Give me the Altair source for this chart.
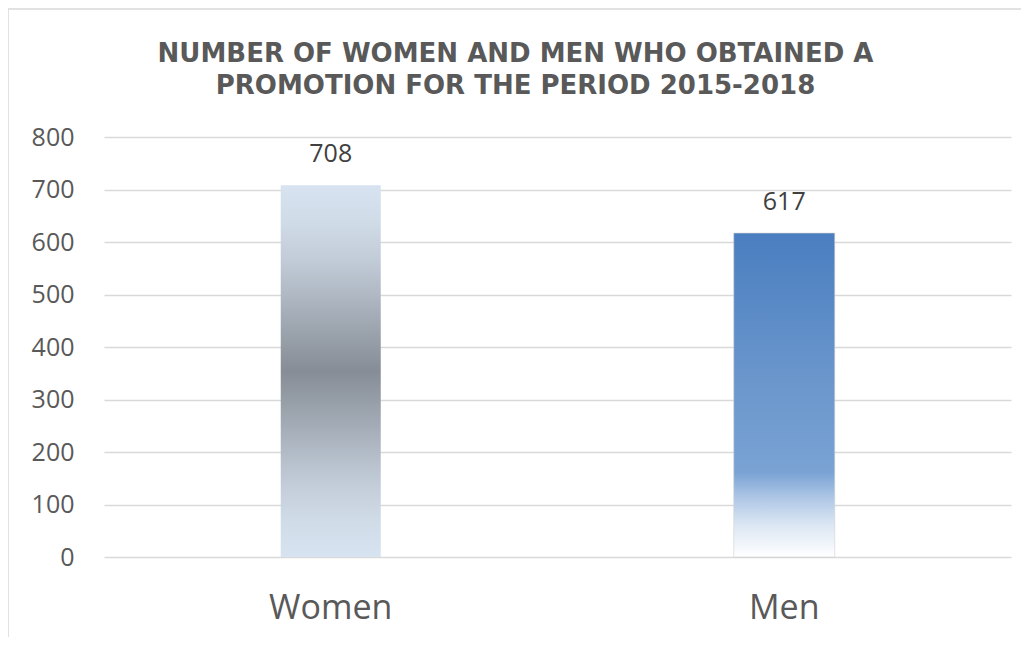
import altair as alt
import pandas as pd

categories = ["Women", "Men"]
values = [708, 617]
y_ticks = [0, 100, 200, 300, 400, 500, 600, 700, 800]
title_lines = ["NUMBER OF WOMEN AND MEN WHO OBTAINED A", "PROMOTION FOR THE PERIOD 2015-2018"]

df = pd.DataFrame({"cat": categories, "val": values})

women_grad = alt.Gradient(
    gradient="linear", x1=0, y1=0, x2=0, y2=1,
    stops=[
        alt.GradientStop(offset=0, color="#d7e3f0"),
        alt.GradientStop(offset=0.1, color="#d0dbe8"),
        alt.GradientStop(offset=0.2, color="#c2ccd8"),
        alt.GradientStop(offset=0.3, color="#aeb7c2"),
        alt.GradientStop(offset=0.4, color="#9aa2ac"),
        alt.GradientStop(offset=0.5, color="#868d96"),
        alt.GradientStop(offset=0.6, color="#9aa2ac"),
        alt.GradientStop(offset=0.7, color="#aeb7c2"),
        alt.GradientStop(offset=0.8, color="#c2ccd8"),
        alt.GradientStop(offset=0.9, color="#d0dbe8"),
        alt.GradientStop(offset=1, color="#d7e3f0"),
    ],
)
men_grad = alt.Gradient(
    gradient="linear", x1=0, y1=0, x2=0, y2=1,
    stops=[
        alt.GradientStop(offset=0, color="#4a7ec0"),
        alt.GradientStop(offset=0.45, color="#6a96cc"),
        alt.GradientStop(offset=0.74, color="#7aa3d4"),
        alt.GradientStop(offset=0.82, color="#b0c8e6"),
        alt.GradientStop(offset=0.9, color="#dbe6f3"),
        alt.GradientStop(offset=1, color="#ffffff"),
    ],
)

x_enc = alt.X("cat:N", sort=categories, title=None,
              scale=alt.Scale(paddingInner=0, paddingOuter=0),
              axis=alt.Axis(labelAngle=0, labelFontSize=34, labelFont="Open Sans",
                            labelColor="#595959", labelPadding=34, ticks=False,
                            domain=False, grid=False))
y_enc = alt.Y("val:Q", title=None,
              scale=alt.Scale(domain=[0, 800], nice=False),
              axis=alt.Axis(values=y_ticks, labelFontSize=25, labelFont="Open Sans",
                            labelColor="#595959", labelPadding=30, ticks=False,
                            domain=False, gridColor="#d9d9d9", gridWidth=1.3))

base = alt.Chart(df).encode(x=x_enc, y=y_enc)

women_bar = base.transform_filter(alt.datum.cat == "Women").mark_bar(size=100, color=women_grad)
men_bar = base.transform_filter(alt.datum.cat == "Men").mark_bar(size=101, color=men_grad, stroke="#d0d0d0", strokeWidth=1, strokeOpacity=0.6)

labels = base.mark_text(dy=-23, baseline="alphabetic", fontSize=25, font="Open Sans",
                        color="#404040").encode(text="val:Q")

frame = alt.Chart(pd.DataFrame({"f": [0]})).mark_rect(
    fill=None, fillOpacity=0, stroke="#d9d9d9", strokeWidth=1.5
).encode(x=alt.value(-96), x2=alt.value(1100), y=alt.value(-128), y2=alt.value(800))

chart = alt.layer(frame, women_bar, men_bar, labels).properties(
    width=907, height=420,
    autosize=alt.AutoSizeParams(type="none"),
    padding={"left": 96, "top": 129, "right": 10, "bottom": 80},
    title=alt.TitleParams(text=title_lines, font="DejaVu Sans", fontWeight="bold",
                          fontSize=26, color="#595959", lineHeight=32, anchor="middle",
                          dx=-42, offset=-91),
).configure_view(stroke=None)

chart.save("out.html", embed_options={"renderer": "svg", "actions": False})
